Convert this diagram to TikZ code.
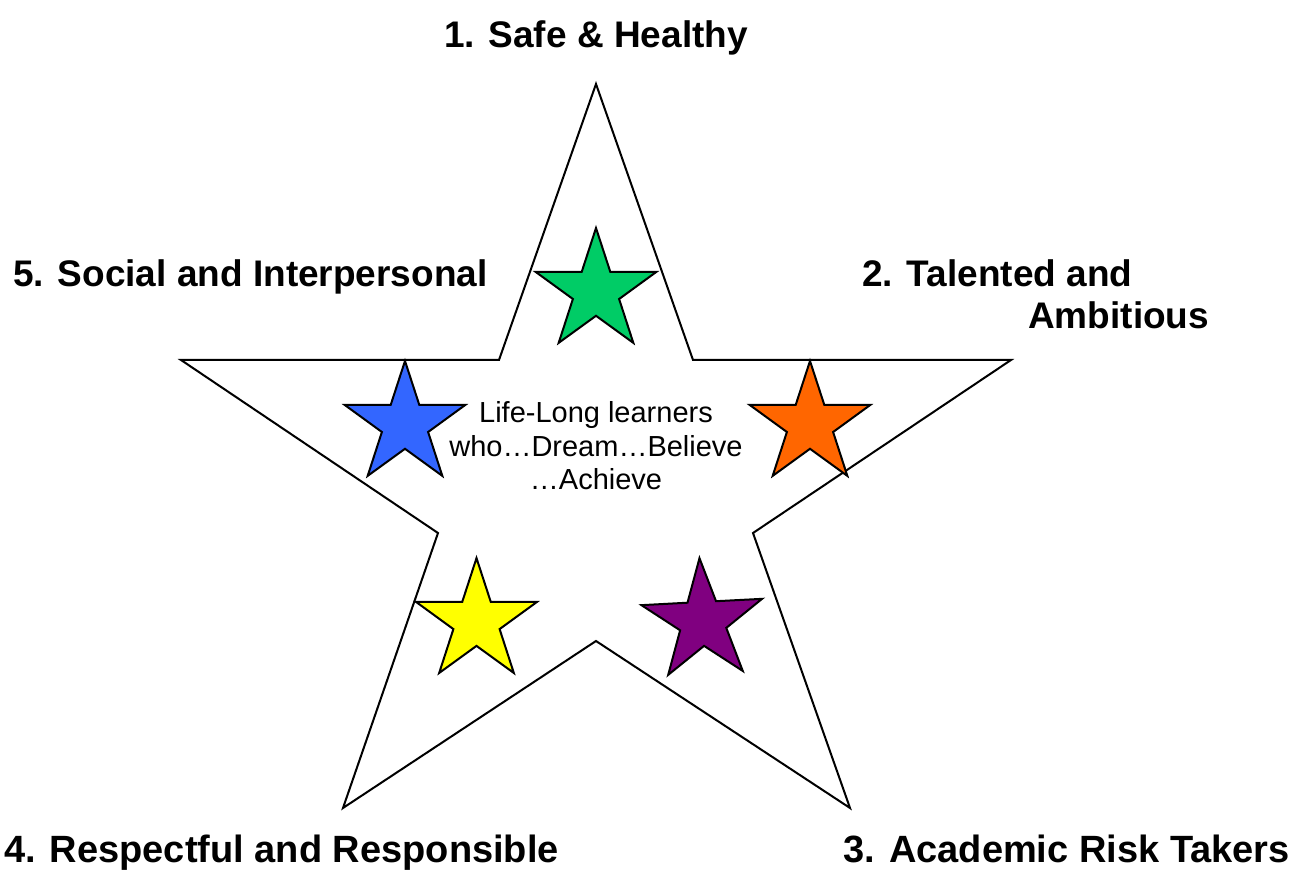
\documentclass[tikz,border=0pt]{standalone}
\usepackage{fontspec}
\setmainfont{Liberation Sans}
\definecolor{stargreen}{RGB}{0,204,102}
\definecolor{starblue}{RGB}{51,102,255}
\definecolor{starorange}{RGB}{255,102,0}
\definecolor{staryellow}{RGB}{255,255,0}
\definecolor{starpurple}{RGB}{128,0,128}
\newcommand\myRout{63.5pt}
\newcommand\myRin{24.3pt}
\newcommand\smallstar[4]{%
  \begin{scope}[shift={#2}, rotate=#4]
    \draw[starline, fill=#3] (90:\myRout) -- (126:\myRin) -- (162:\myRout) -- (198:\myRin)
      -- (234:\myRout) -- (270:\myRin) -- (306:\myRout) -- (342:\myRin)
      -- (18:\myRout) -- (54:\myRin) -- cycle;
    \coordinate (#1) at (0,0);
  \end{scope}}
\tikzset{
  starline/.style={draw=black, line width=2pt, line join=miter},
  bigstar/.style={draw=black, line width=2pt, line join=miter, fill=white},
  heading/.style={inner sep=0pt, font=\bfseries\fontsize{37}{42}\selectfont},
  lowheading/.style={inner sep=0pt, font=\bfseries\fontsize{38}{42}\selectfont},
  centretext/.style={inner sep=0pt, align=center, font=\fontsize{29}{33.5}\selectfont}
}
\begin{document}
\begin{tikzpicture}[x=1pt,y=1pt]
\useasboundingbox[fill=white] (0,0) rectangle (1296,894);
% big star vertices
\coordinate (top) at (596,810);
\coordinate (iur) at (693,534);
\coordinate (oright) at (1011,534);
\coordinate (ilr) at (753,361);
\coordinate (obr) at (850,86);
\coordinate (ibot) at (596,253);
\coordinate (obl) at (343,86);
\coordinate (ill) at (438,361);
\coordinate (oleft) at (181,534);
\coordinate (iul) at (499,534);
\draw[bigstar] (top) -- (iur) -- (oright) -- (ilr) -- (obr) -- (ibot) -- (obl) -- (ill) -- (oleft) -- (iul) -- cycle;
% small stars
\smallstar{sgreen}{(596,602.5)}{stargreen}{0}
\smallstar{sblue}{(405,469.5)}{starblue}{0}
\smallstar{sorange}{(810,469.5)}{starorange}{0}
\smallstar{syellow}{(476.5,272.4)}{staryellow}{0}
\smallstar{spurple}{(702.8,272.4)}{starpurple}{3}
% centre text (base anchor = last line's baseline)
\node[centretext, anchor=base] (motto) at (596,404) {Life-Long learners\\who\dots Dream\dots Believe\\\dots Achieve};
% headings
\node[heading, anchor=base] (h1) at (596,846) {1. Safe \& Healthy};
\node[heading, anchor=base west] (h5) at (13,607) {5. Social and Interpersonal};
\node[heading, anchor=base west, align=left] (h2) at (862,565) {2. Talented and\\\hspace*{166pt}Ambitious};
\node[lowheading, anchor=base west] (h4) at (4,31) {4. Respectful and Responsible};
\node[lowheading, anchor=base east] (h3) at (1290,31) {3. Academic Risk Takers};
\end{tikzpicture}
\end{document}
